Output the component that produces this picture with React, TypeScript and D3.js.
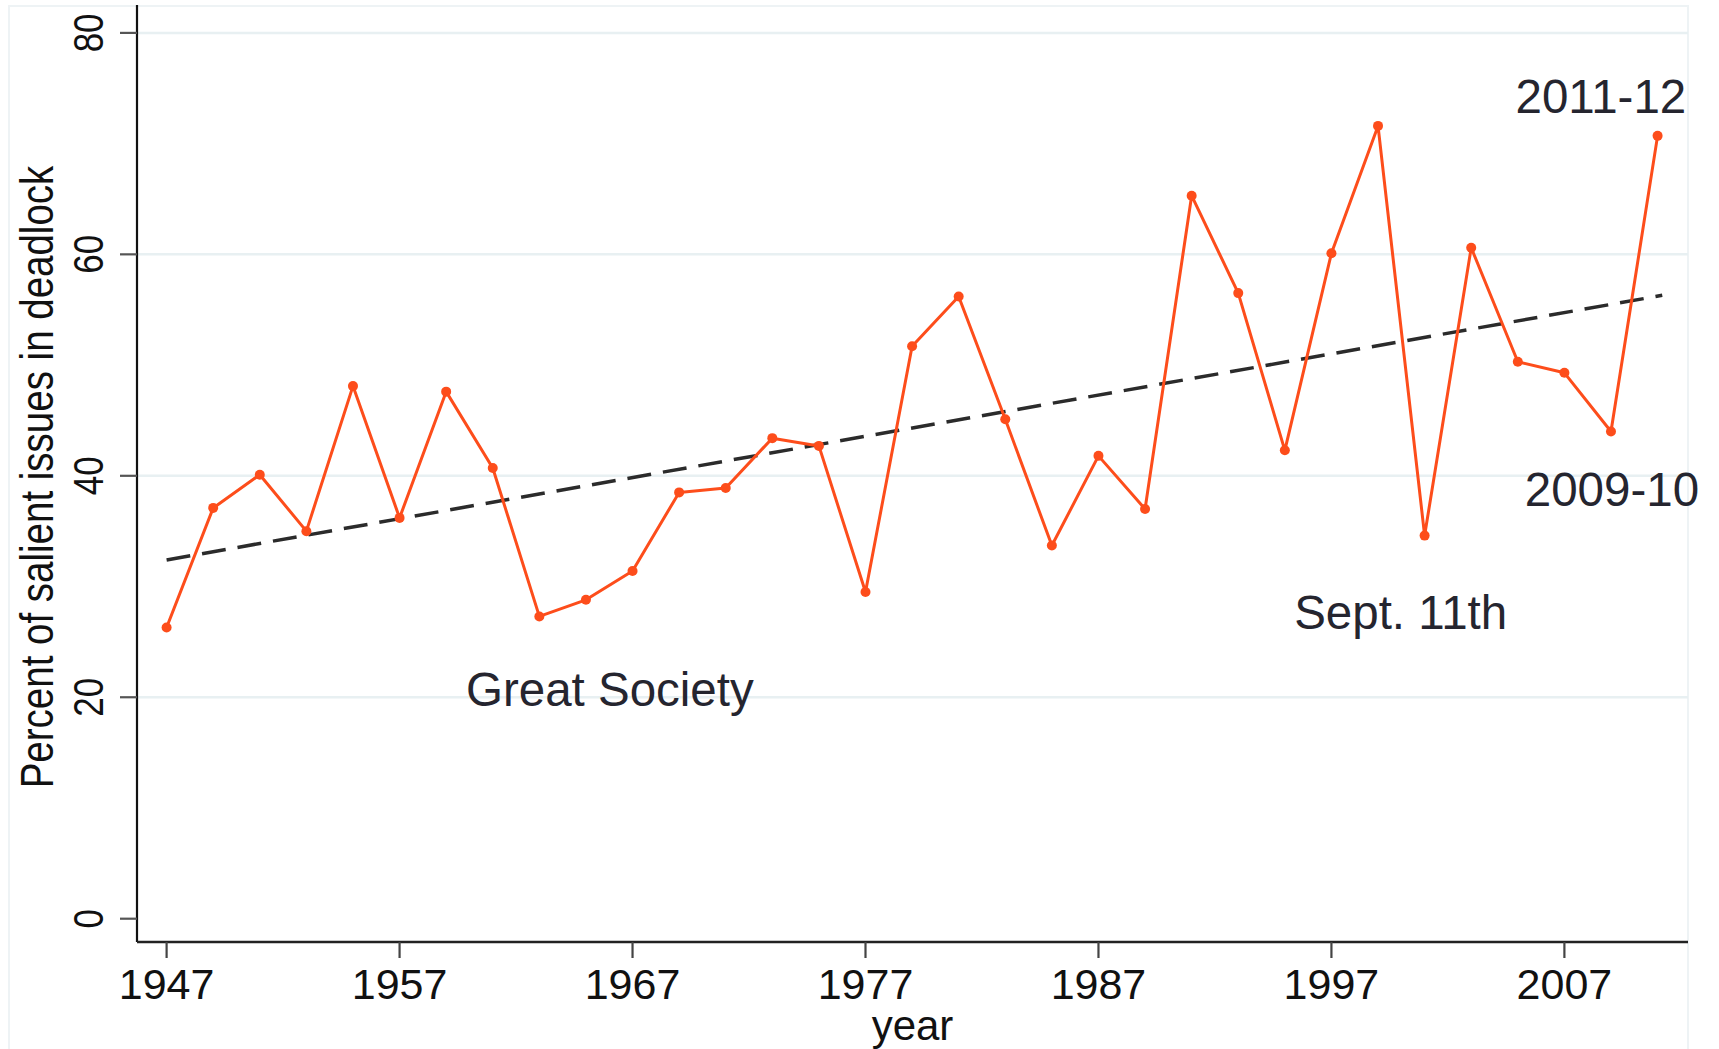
import React from 'react';
import * as d3 from "d3";

// congress start years (each point is one two-year session)
const years = [1947, 1949, 1951, 1953, 1955, 1957, 1959, 1961, 1963, 1965, 1967,
    1969, 1971, 1973, 1975, 1977, 1979, 1981, 1983, 1985, 1987, 1989,
    1991, 1993, 1995, 1997, 1999, 2001, 2003, 2005, 2007, 2009, 2011];

const deadlock = [26.3, 37.1, 40.1, 35.0, 48.1, 36.2, 47.6, 40.7, 27.3, 28.8, 31.4,
    38.5, 38.9, 43.4, 42.7, 29.5, 51.7, 56.2, 45.1, 33.7, 41.8, 37.0,
    65.3, 56.5, 42.3, 60.1, 71.6, 34.6, 60.6, 50.3, 49.3, 44.0, 70.7];

// fitted trend at both ends
const trendYears = [1947, 2011.2];
const trendValues = [32.4, 56.3];

const xTicks = [1947, 1957, 1967, 1977, 1987, 1997, 2007];
const yTicks = [0, 20, 40, 60, 80];

const notes = [
    { text: "Great Society", year: 1959.85, value: 19.2 },
    { text: "Sept. 11th", year: 1995.4, value: 26.2 },
    { text: "2011-12", year: 2004.9, value: 72.8 },
    { text: "2009-10", year: 2005.3, value: 37.3 },
];

const width = 1719,
    height = 1049;

const App = () => {

    const left = 137,
        right = 1688,
        bottom = 942;

    const xScale = d3.scaleLinear()
        .domain([1947, 2007])
        .range([166.6, 1564.4]);

    const yScale = d3.scaleLinear()
        .domain([0, 80])
        .range([918.7, 32.9]);

    const lineGenerator = d3.line()
        .x(d => xScale(d[0]))
        .y(d => yScale(d[1]));

    const seriesPath = lineGenerator(years.map((y, i) => [y, deadlock[i]]));
    const trendPath = lineGenerator(trendYears.map((y, i) => [y, trendValues[i]]));

    const orange = "#fd4d1b";
    const textColor = "#25252f";

    return (
        <svg width={width} height={height} style={{ position: 'absolute', left: 0, top: 0, background: '#fff' }}
            fontFamily="'Liberation Sans', Arial, sans-serif">
            {/* faint graph region frame */}
            <rect x={9} y={6} width={right - 9} height={height} fill="none" stroke="#eef3f5" strokeWidth={2} />

            {/* grid */}
            {yTicks.filter(t => t > 0).map(t => (
                <line key={"g" + t} x1={left} x2={right} y1={yScale(t)} y2={yScale(t)} stroke="#e8f0f2" strokeWidth={2.5} />
            ))}

            {/* axes */}
            <line x1={left} x2={left} y1={5} y2={bottom} stroke="#111" strokeWidth={2.2} />
            <line x1={left} x2={right} y1={bottom} y2={bottom} stroke="#222" strokeWidth={2.6} />

            {yTicks.map(t => (
                <g key={"y" + t}>
                    <line x1={120} x2={left} y1={yScale(t)} y2={yScale(t)} stroke="#555" strokeWidth={2.2} />
                    <text transform={`translate(103,${yScale(t)}) rotate(-90) scale(1,1.2)`}
                        textAnchor="middle" fontSize={35} fill="#111">{t}</text>
                </g>
            ))}

            {xTicks.map(t => (
                <g key={"x" + t}>
                    <line x1={xScale(t)} x2={xScale(t)} y1={bottom} y2={958} stroke="#444" strokeWidth={2.2} />
                    <text x={xScale(t)} y={999} textAnchor="middle" fontSize={43} fill="#111">{t}</text>
                </g>
            ))}

            <text x={(left + right) / 2} y={1040} textAnchor="middle" fontSize={42} fill="#111">year</text>
            <text transform={`translate(53,477) rotate(-90) scale(1,1.2)`} textAnchor="middle" fontSize={38.5} fill="#111">
                Percent of salient issues in deadlock
            </text>

            {/* trend */}
            <path d={trendPath} fill="none" stroke="#2b2b2b" strokeWidth={3.5} strokeDasharray="24 12" />

            {/* series */}
            <path d={seriesPath} fill="none" stroke={orange} strokeWidth={3} strokeLinejoin="round" />
            {years.map((y, i) => (
                <circle key={y} cx={xScale(y)} cy={yScale(deadlock[i])} r={5} fill={orange} />
            ))}

            {notes.map(n => (
                <text key={n.text} x={xScale(n.year)} y={yScale(n.value)} fontSize={47.5} fill={textColor}>{n.text}</text>
            ))}
        </svg>
    );
}

export default App;
